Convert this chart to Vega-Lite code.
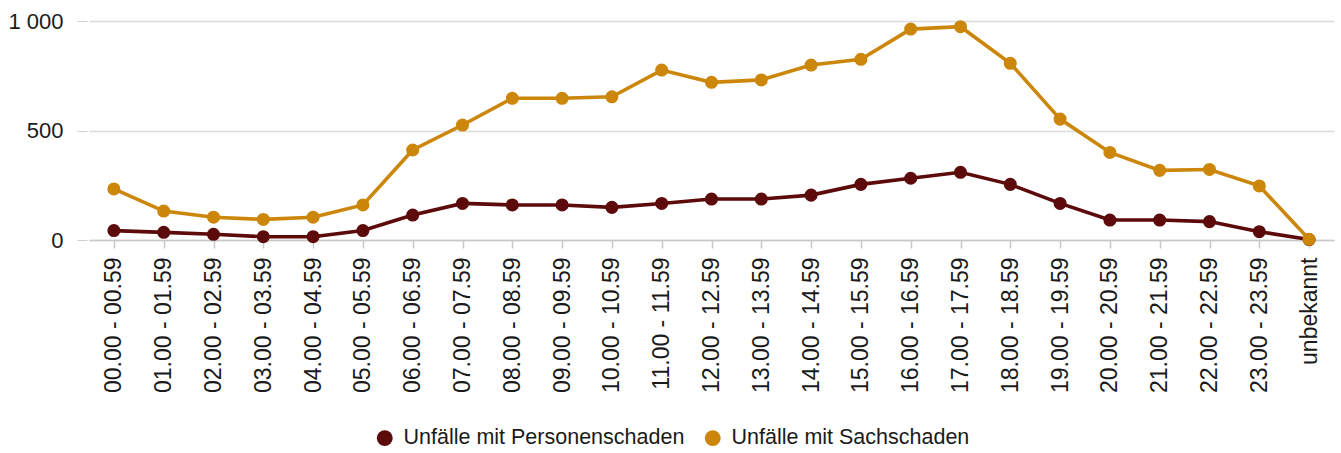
{
  "$schema": "https://vega.github.io/schema/vega-lite/v6.json",
  "autosize": "none",
  "width": 1245,
  "height": 219,
  "padding": {"left": 89, "top": 21, "right": 7, "bottom": 213},
  "background": "white",
  "config": {
    "view": {"stroke": null},
    "font": "Liberation Sans",
    "axis": {"labelFont": "Liberation Sans", "labelColor": "#1a1a1a"},
    "legend": {"labelFont": "Liberation Sans"}
  },
  "data": {
    "values": [
      {"t": "00.00 - 00.59", "typ": "Unfälle mit Personenschaden", "n": 43},
      {"t": "01.00 - 01.59", "typ": "Unfälle mit Personenschaden", "n": 35},
      {"t": "02.00 - 02.59", "typ": "Unfälle mit Personenschaden", "n": 26},
      {"t": "03.00 - 03.59", "typ": "Unfälle mit Personenschaden", "n": 15},
      {"t": "04.00 - 04.59", "typ": "Unfälle mit Personenschaden", "n": 15},
      {"t": "05.00 - 05.59", "typ": "Unfälle mit Personenschaden", "n": 43},
      {"t": "06.00 - 06.59", "typ": "Unfälle mit Personenschaden", "n": 114},
      {"t": "07.00 - 07.59", "typ": "Unfälle mit Personenschaden", "n": 167},
      {"t": "08.00 - 08.59", "typ": "Unfälle mit Personenschaden", "n": 160},
      {"t": "09.00 - 09.59", "typ": "Unfälle mit Personenschaden", "n": 160},
      {"t": "10.00 - 10.59", "typ": "Unfälle mit Personenschaden", "n": 149},
      {"t": "11.00 - 11.59", "typ": "Unfälle mit Personenschaden", "n": 167},
      {"t": "12.00 - 12.59", "typ": "Unfälle mit Personenschaden", "n": 187},
      {"t": "13.00 - 13.59", "typ": "Unfälle mit Personenschaden", "n": 187},
      {"t": "14.00 - 14.59", "typ": "Unfälle mit Personenschaden", "n": 205},
      {"t": "15.00 - 15.59", "typ": "Unfälle mit Personenschaden", "n": 254},
      {"t": "16.00 - 16.59", "typ": "Unfälle mit Personenschaden", "n": 282},
      {"t": "17.00 - 17.59", "typ": "Unfälle mit Personenschaden", "n": 309},
      {"t": "18.00 - 18.59", "typ": "Unfälle mit Personenschaden", "n": 254},
      {"t": "19.00 - 19.59", "typ": "Unfälle mit Personenschaden", "n": 167},
      {"t": "20.00 - 20.59", "typ": "Unfälle mit Personenschaden", "n": 91},
      {"t": "21.00 - 21.59", "typ": "Unfälle mit Personenschaden", "n": 91},
      {"t": "22.00 - 22.59", "typ": "Unfälle mit Personenschaden", "n": 84},
      {"t": "23.00 - 23.59", "typ": "Unfälle mit Personenschaden", "n": 38},
      {"t": "unbekannt", "typ": "Unfälle mit Personenschaden", "n": 2},
      {"t": "00.00 - 00.59", "typ": "Unfälle mit Sachschaden", "n": 233},
      {"t": "01.00 - 01.59", "typ": "Unfälle mit Sachschaden", "n": 132},
      {"t": "02.00 - 02.59", "typ": "Unfälle mit Sachschaden", "n": 104},
      {"t": "03.00 - 03.59", "typ": "Unfälle mit Sachschaden", "n": 94},
      {"t": "04.00 - 04.59", "typ": "Unfälle mit Sachschaden", "n": 104},
      {"t": "05.00 - 05.59", "typ": "Unfälle mit Sachschaden", "n": 160},
      {"t": "06.00 - 06.59", "typ": "Unfälle mit Sachschaden", "n": 411},
      {"t": "07.00 - 07.59", "typ": "Unfälle mit Sachschaden", "n": 525},
      {"t": "08.00 - 08.59", "typ": "Unfälle mit Sachschaden", "n": 647},
      {"t": "09.00 - 09.59", "typ": "Unfälle mit Sachschaden", "n": 647},
      {"t": "10.00 - 10.59", "typ": "Unfälle mit Sachschaden", "n": 654},
      {"t": "11.00 - 11.59", "typ": "Unfälle mit Sachschaden", "n": 776},
      {"t": "12.00 - 12.59", "typ": "Unfälle mit Sachschaden", "n": 720},
      {"t": "13.00 - 13.59", "typ": "Unfälle mit Sachschaden", "n": 731},
      {"t": "14.00 - 14.59", "typ": "Unfälle mit Sachschaden", "n": 799},
      {"t": "15.00 - 15.59", "typ": "Unfälle mit Sachschaden", "n": 825},
      {"t": "16.00 - 16.59", "typ": "Unfälle mit Sachschaden", "n": 963},
      {"t": "17.00 - 17.59", "typ": "Unfälle mit Sachschaden", "n": 974},
      {"t": "18.00 - 18.59", "typ": "Unfälle mit Sachschaden", "n": 807},
      {"t": "19.00 - 19.59", "typ": "Unfälle mit Sachschaden", "n": 552},
      {"t": "20.00 - 20.59", "typ": "Unfälle mit Sachschaden", "n": 400},
      {"t": "21.00 - 21.59", "typ": "Unfälle mit Sachschaden", "n": 318},
      {"t": "22.00 - 22.59", "typ": "Unfälle mit Sachschaden", "n": 322},
      {"t": "23.00 - 23.59", "typ": "Unfälle mit Sachschaden", "n": 247},
      {"t": "unbekannt", "typ": "Unfälle mit Sachschaden", "n": 3}
    ]
  },
  "encoding": {
    "x": {
      "field": "t",
      "type": "ordinal",
      "sort": null,
      "title": null,
      "scale": {"type": "point", "padding": 0.5},
      "axis": {
        "labelAngle": -90,
        "labelAlign": "right",
        "labelBaseline": "middle",
        "labelFontSize": 23,
        "labelPadding": 9,
        "tickSize": 8,
        "tickColor": "#c8c8c8",
        "tickWidth": 1.5,
        "domainColor": "#c8c8c8",
        "domainWidth": 1.5,
        "grid": false
      }
    },
    "y": {
      "field": "n",
      "type": "quantitative",
      "title": null,
      "scale": {"domain": [0, 1000], "nice": false},
      "axis": {
        "values": [0, 500, 1000],
        "labelExpr": "replace(format(datum.value, ','), ',', ' ')",
        "labelFontSize": 22,
        "labelPadding": 14,
        "tickSize": 10,
        "tickColor": "#d0d0d0",
        "offset": 2,
        "domain": false,
        "grid": true,
        "gridColor": "#dcdcdc",
        "gridWidth": 1.5
      }
    },
    "color": {
      "field": "typ",
      "type": "nominal",
      "scale": {
        "domain": ["Unfälle mit Personenschaden", "Unfälle mit Sachschaden"],
        "range": ["#5c0a0a", "#cc870b"]
      },
      "legend": {
        "title": null,
        "orient": "none",
        "direction": "horizontal",
        "legendX": 285,
        "legendY": 406,
        "symbolType": "circle",
        "symbolSize": 250,
        "symbolOpacity": 1,
        "symbolStrokeWidth": 0,
        "labelFontSize": 21.5,
        "labelColor": "#1a1a1a",
        "labelOffset": 8,
        "columnPadding": 17,
        "padding": 0,
        "labelLimit": 400
      }
    }
  },
  "layer": [
    {
      "mark": {"type": "line", "strokeWidth": 3.6}
    },
    {
      "mark": {"type": "point", "filled": true, "opacity": 1, "size": 170}
    }
  ]
}
